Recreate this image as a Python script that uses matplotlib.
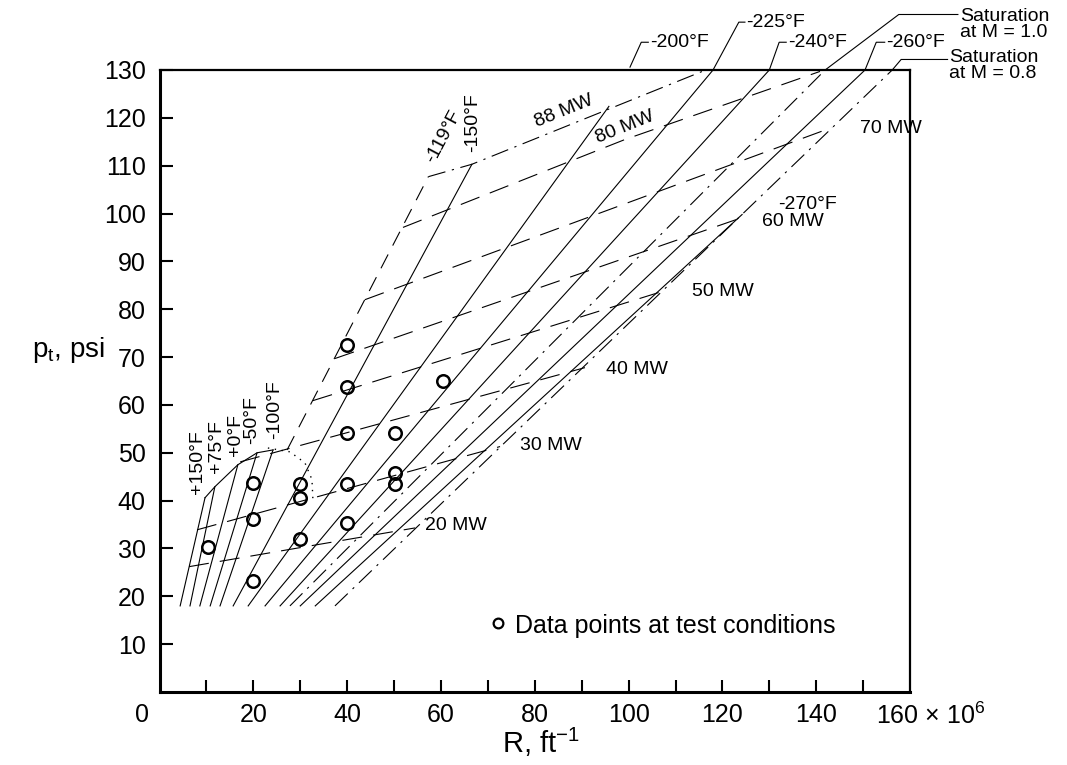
import matplotlib.pyplot as plt
import numpy as np

plt.rcParams['font.family'] = ['Liberation Sans', 'DejaVu Sans']
plt.rcParams['mathtext.fontset'] = 'custom'
plt.rcParams['mathtext.rm'] = 'Liberation Sans'

# constant temperature lines (solid), R in 10^6 ft^-1, p in psi
temp_names = ['+150°F', '+75°F', '+0°F', '-50°F', '-100°F', '-150°F',
              '-200°F', '-225°F', '-240°F', '-260°F', '-270°F']
temp_r0 = [4.4, 6.5, 8.6, 10.8, 12.9, 15.7, 18.9, 22.5, 25.7, 30.0, 33.2]
temp_p0 = [18.0, 18.0, 18.0, 18.0, 18.0, 18.0, 18.0, 18.0, 18.0, 18.0, 18.0]
temp_r1 = [9.7, 11.8, 16.7, 20.8, 24.2, 66.6, 95.8, 118.0, 130.0, 150.4, 124.2]
temp_p1 = [40.6, 42.9, 47.5, 50.0, 50.6, 110.3, 122.4, 130.0, 130.0, 130.0, 99.8]

# -119 F boundary (dashed)
t119_r = [27.2, 57.3]
t119_p = [50.6, 107.7]

# saturation lines (dash-dot)
sat_names = ['M = 1.0', 'M = 0.8']
sat_r = [[27.8, 141.9], [37.4, 156.2]]
sat_p = [[18.0, 130.0], [18.0, 130.0]]

# constant power lines (dashed), 88 MW is the dash-dot envelope
pw_names = ['20 MW', '30 MW', '40 MW', '50 MW', '60 MW', '70 MW', '80 MW']
pw_r = [[6.3, 54.5], [8.0, 72.6], [17.2, 90.7], [32.7, 107.1],
        [37.4, 124.9], [43.8, 143.4], [51.9, 99.3, 140.8]]
pw_p = [[26.2, 34.3], [33.9, 51.3], [48.1, 67.8], [60.9, 83.7],
        [69.7, 99.4], [82.0, 118.0], [97.1, 115.5, 129.7]]
mw88_r = [57.3, 66.6, 115.7]
mw88_p = [107.7, 110.3, 129.7]

# dotted arc near -100 F
arc_r = [23.1, 27.8, 31.0, 32.5, 32.7]
arc_p = [51.0, 50.2, 47.9, 44.4, 40.2]

# test conditions
pts_r = [10.3, 19.9, 19.9, 19.9, 30.0, 30.0, 30.0, 40.0, 40.0, 40.0, 40.0, 40.0,
         50.2, 50.2, 50.2, 60.4]
pts_p = [30.3, 43.7, 36.2, 23.2, 43.5, 40.6, 32.0, 72.6, 63.8, 54.2, 43.5, 35.4,
         54.2, 45.8, 43.5, 64.9]

fig = plt.figure(figsize=(10.67, 7.65), dpi=100)
ax = fig.add_axes([0.1495, 0.0954, 0.7034, 0.8131])
ax.set_xlim(0, 160)
ax.set_ylim(0, 130)

lw = 0.8
for r0, p0, r1, p1 in zip(temp_r0, temp_p0, temp_r1, temp_p1):
    ax.plot([r0, r1], [p0, p1], color='black', lw=lw)
# top of the warm cluster
ax.plot(temp_r1[:5], temp_p1[:5], color='black', lw=lw)
ax.plot(t119_r, t119_p, color='black', lw=lw, ls=(0, (14, 9)))
for r, p in zip(sat_r, sat_p):
    ax.plot(r, p, color='black', lw=lw, ls=(0, (16, 6, 2, 6)))
for r, p in zip(pw_r, pw_p):
    ax.plot(r, p, color='black', lw=lw, ls=(0, (18, 10)))
ax.plot(mw88_r, mw88_p, color='black', lw=lw, ls=(0, (16, 6, 2, 6)))
ax.plot(arc_r, arc_p, color='black', lw=1.0, ls=(0, (1, 4)))

ax.plot(pts_r, pts_p, 'o', ms=9, mfc='none', mec='black', mew=1.8)

fs = 14
# temperature labels, warm cluster (vertical)
for name, r, p in zip(temp_names[:5], [8.0, 12.2, 16.3, 19.7, 24.6],
                      [48.1, 51.2, 53.8, 56.9, 59.0]):
    ax.text(r, p, name, rotation=90, ha='center', va='center', fontsize=fs)
ax.text(60.5, 116.1, '-119°F', rotation=62, ha='center', va='center', fontsize=fs)
ax.text(66.8, 119.0, '-150°F', rotation=90, ha='center', va='center', fontsize=fs)
ax.text(131.9, 101.9, '-270°F', ha='left', va='center', fontsize=fs)

# power labels
ax.text(86.3, 121.3, '88 MW', rotation=22, ha='center', va='center', fontsize=fs)
ax.text(99.3, 118.0, '80 MW', rotation=22, ha='center', va='center', fontsize=fs)
mw_lab_r = [63.2, 83.5, 101.8, 120.2, 135.1, 156.0]
mw_lab_p = [34.9, 51.5, 67.4, 83.7, 98.3, 117.8]
for name, r, p in zip(pw_names[:6], mw_lab_r, mw_lab_p):
    ax.text(r, p, name, ha='center', va='center', fontsize=fs)

# labels above the frame with leaders
top_labels = [('-200°F', 104.6, 135.8, [100.3, 102.7, 104.2], [130.6, 135.8, 135.8]),
              ('-225°F', 125.0, 140.0, [118.0, 123.5, 124.8], [130.0, 140.0, 140.0]),
              ('-240°F', 134.0, 135.8, [130.0, 132.1, 133.6], [130.0, 135.8, 135.8]),
              ('-260°F', 155.0, 135.8, [150.4, 152.8, 154.6], [130.0, 135.8, 135.8])]
for name, r, p, lr, lp in top_labels:
    ax.text(r, p, name, ha='left', va='center', fontsize=fs, clip_on=False)
    ax.plot(lr, lp, color='black', lw=lw, clip_on=False)

ax.text(170.6, 139.5, 'Saturation\nat M = 1.0', ha='left', va='center',
        fontsize=fs, linespacing=0.95, clip_on=False)
ax.plot([141.9, 157.6, 170.2], [130.0, 141.6, 141.6], color='black', lw=lw,
        clip_on=False)
ax.text(168.4, 130.9, 'Saturation\nat M = 0.8', ha='left', va='center',
        fontsize=fs, linespacing=0.95, clip_on=False)
ax.plot([156.2, 158.1, 168.0], [130.0, 132.2, 132.2], color='black', lw=lw,
        clip_on=False)

# legend
ax.plot([72.2], [14.4], 'o', ms=7, mfc='none', mec='black', mew=1.6)
ax.text(75.8, 13.8, 'Data points at test conditions', ha='left', va='center',
        fontsize=18)

# axes styling
ax.spines['left'].set_linewidth(2.2)
ax.spines['bottom'].set_linewidth(2.2)
ax.spines['top'].set_linewidth(1.6)
ax.spines['right'].set_linewidth(1.6)

ax.set_xticks(np.arange(10, 151, 10))
ax.set_xticklabels([str(v) if v % 20 == 0 else '' for v in range(10, 151, 10)])
ax.set_yticks(np.arange(10, 131, 10))
ax.set_yticklabels([str(v) for v in range(10, 131, 10)])
ax.tick_params(axis='both', direction='in', length=9, width=1.5, labelsize=18)
ax.tick_params(axis='x', pad=8)
ax.tick_params(axis='y', pad=10)

ax.text(-3.8, -2.2, '0', ha='center', va='top', fontsize=18, clip_on=False)
ax.text(152.8, -2.2, '160 × 10$^{\\mathregular{6}}$', ha='left', va='top',
        fontsize=18, clip_on=False)

fig.text(0.507, 0.008, 'R, ft$^{\\mathregular{-1}}$', ha='center', va='bottom',
         fontsize=21)
fig.text(0.030, 0.542, 'p$_{\\mathregular{t}}$, psi', ha='left', va='center',
         fontsize=20)

fig.savefig('out.png', dpi=100)
